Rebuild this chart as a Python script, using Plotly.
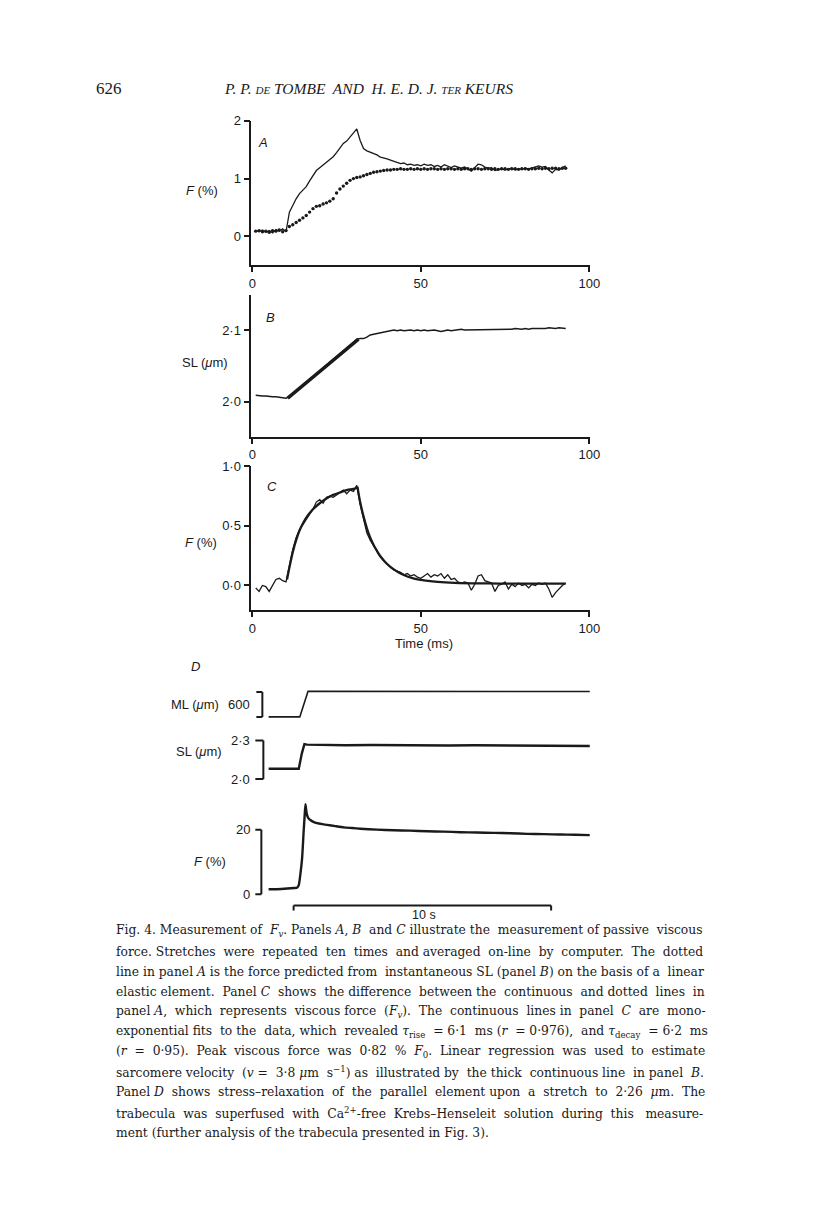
import plotly.graph_objects as go

# ---------------- data ----------------
# Panel A: measured force (continuous) and predicted elastic force (dotted), 1 ms steps from 1 ms
force_A = [0.10, 0.08, 0.11, 0.07, 0.10, 0.06, 0.12, 0.09, 0.13, 0.08,
           0.42, 0.55, 0.65, 0.74, 0.81, 0.86, 0.96, 1.06, 1.14, 1.19,
           1.24, 1.29, 1.33, 1.38, 1.45, 1.54, 1.61, 1.65, 1.72, 1.78,
           1.86, 1.66, 1.52, 1.48, 1.46, 1.44, 1.41, 1.37, 1.36, 1.34,
           1.32, 1.30, 1.28, 1.26, 1.27, 1.24, 1.25, 1.23, 1.24, 1.22,
           1.25, 1.23, 1.24, 1.21, 1.23, 1.20, 1.24, 1.21, 1.19, 1.22,
           1.20, 1.18, 1.20, 1.17, 1.13, 1.19, 1.25, 1.24, 1.20, 1.18,
           1.19, 1.14, 1.16, 1.17, 1.15, 1.16, 1.18, 1.15, 1.17, 1.16,
           1.18, 1.17, 1.19, 1.20, 1.22, 1.20, 1.21, 1.15, 1.10, 1.16,
           1.15, 1.19, 1.22]
predicted_A = [0.09, 0.10, 0.08, 0.09, 0.07, 0.10, 0.09, 0.11, 0.08, 0.10,
               0.17, 0.20, 0.24, 0.28, 0.32, 0.36, 0.42, 0.48, 0.52, 0.53,
               0.56, 0.58, 0.61, 0.65, 0.75, 0.82, 0.87, 0.92, 0.97, 1.00,
               1.02, 1.03, 1.05, 1.07, 1.09, 1.11, 1.12, 1.13, 1.14, 1.15,
               1.15, 1.16, 1.16, 1.17, 1.16, 1.16, 1.17, 1.16, 1.17, 1.16,
               1.17, 1.16, 1.17, 1.17, 1.16, 1.17, 1.16, 1.17, 1.17, 1.16,
               1.17, 1.16, 1.17, 1.17, 1.16, 1.17, 1.17, 1.16, 1.17, 1.17,
               1.16, 1.17, 1.16, 1.17, 1.17, 1.16, 1.17, 1.17, 1.16, 1.17,
               1.17, 1.16, 1.17, 1.17, 1.18, 1.17, 1.18, 1.17, 1.18, 1.18,
               1.17, 1.18, 1.18]
# Panel B: sarcomere length (um)
sl_B = [2.009, 2.008, 2.008, 2.008, 2.007, 2.007, 2.007, 2.006, 2.006, 2.005,
        2.007, 2.011, 2.015, 2.019, 2.023, 2.028, 2.032, 2.036, 2.040, 2.043,
        2.047, 2.052, 2.056, 2.060, 2.064, 2.068, 2.072, 2.076, 2.080, 2.084,
        2.087, 2.088, 2.088, 2.090, 2.093, 2.094, 2.095, 2.097, 2.098, 2.099,
        2.099, 2.100, 2.099, 2.100, 2.099, 2.100, 2.100, 2.099, 2.100, 2.099,
        2.100, 2.099, 2.100, 2.100, 2.099, 2.098, 2.099, 2.100, 2.099, 2.100,
        2.100, 2.101, 2.100, 2.100, 2.101, 2.100, 2.100, 2.101, 2.100, 2.101,
        2.101, 2.100, 2.101, 2.101, 2.100, 2.101, 2.101, 2.102, 2.101, 2.101,
        2.102, 2.101, 2.102, 2.102, 2.101, 2.102, 2.102, 2.103, 2.102, 2.102,
        2.103, 2.102, 2.102]
reg_t = [10.5, 31.5]
reg_sl = [2.005, 2.087]
# Panel C: viscous force (difference) and mono-exponential fits
visc_C = [-0.02, -0.05, 0.00, -0.01, -0.05, 0.00, 0.05, 0.06, 0.04, 0.03,
          0.17, 0.30, 0.40, 0.47, 0.51, 0.55, 0.60, 0.64, 0.70, 0.72,
          0.69, 0.74, 0.75, 0.74, 0.76, 0.78, 0.80, 0.77, 0.80, 0.79,
          0.84, 0.68, 0.55, 0.44, 0.38, 0.33, 0.28, 0.24, 0.21, 0.18,
          0.15, 0.13, 0.12, 0.11, 0.09, 0.10, 0.08, 0.09, 0.07, 0.06,
          0.08, 0.10, 0.07, 0.09, 0.08, 0.10, 0.06, 0.09, 0.05, 0.06,
          0.03, 0.02, 0.03, 0.02, -0.04, 0.01, 0.08, 0.09, 0.04, 0.03,
          0.02, -0.05, 0.00, 0.01, 0.03, -0.03, 0.01, -0.01, 0.02, 0.00,
          0.01, -0.02, 0.01, 0.00, 0.02, 0.01, 0.02, -0.03, -0.10, -0.06,
          -0.03, 0.00, 0.02]
rise_t = [10.3, 11, 12, 13, 14, 15, 16, 18, 20, 22, 24, 26, 28, 30, 31.2]
rise_fit = [0.05, 0.15, 0.28, 0.38, 0.46, 0.52, 0.57, 0.64, 0.69, 0.73, 0.76, 0.78, 0.80, 0.81, 0.82]
decay_t = [31.2, 32, 33, 34, 35, 36, 37, 38, 40, 42, 44, 46, 48, 50, 55, 60, 70, 80, 93]
decay_fit = [0.83, 0.70, 0.58, 0.48, 0.40, 0.34, 0.29, 0.245, 0.18, 0.135, 0.10, 0.075,
             0.058, 0.046, 0.03, 0.022, 0.017, 0.015, 0.015]
time_ms = list(range(1, len(force_A) + 1))

# Panel D: stress relaxation (time in s)
ml_t = [0, 1.22, 1.54, 12.48]
ml_D = [0, 0, 615, 610]
sl_t = [0, 0.5, 1.0, 1.18, 1.30, 1.40, 1.50, 2, 3, 4, 5, 6, 7, 8, 9, 10, 11, 12, 12.48]
sl_D = [2.08, 2.08, 2.08, 2.08, 2.20, 2.272, 2.268, 2.265, 2.264, 2.265, 2.263, 2.264,
        2.262, 2.263, 2.261, 2.262, 2.260, 2.259, 2.258]
f_t = [0, 0.5, 1.0, 1.11, 1.18, 1.24, 1.31, 1.37, 1.41, 1.44, 1.47, 1.50, 1.55, 1.63, 1.75,
       1.89, 2.10, 2.28, 2.60, 2.93, 3.25, 3.57, 4.22, 4.87, 5.50, 6.17, 6.80, 7.46, 8.10,
       8.75, 9.40, 10.05, 10.70, 11.34, 11.90, 12.48]
f_D = [1.5, 1.6, 1.9, 2.0, 2.8, 6.0, 11.2, 19.5, 24.5, 27.9, 26.0, 24.6, 23.6, 23.0, 22.4,
       22.0, 21.7, 21.5, 21.1, 20.7, 20.5, 20.3, 20.0, 19.8, 19.7, 19.5, 19.4, 19.2, 19.1,
       19.0, 18.9, 18.7, 18.6, 18.5, 18.4, 18.3]

x_ticks = [0, 50, 100]
yA_ticks, yA_text = [0, 1, 2], ["0", "1", "2"]
yB_ticks, yB_text = [2.0, 2.1], ["2·0", "2·1"]
yC_ticks, yC_text = [0.0, 0.5, 1.0], ["0·0", "0·5", "1·0"]

caption_lines = [
    "Fig. 4. Measurement of <i>F</i><sub><i>v</i></sub>. Panels <i>A</i>, <i>B</i> and <i>C</i> illustrate the measurement of passive viscous",
    "force. Stretches were repeated ten times and averaged on-line by computer. The dotted",
    "line in panel <i>A</i> is the force predicted from instantaneous SL (panel <i>B</i>) on the basis of a linear",
    "elastic element. Panel <i>C</i> shows the difference between the continuous and dotted lines in",
    "panel <i>A</i>, which represents viscous force (<i>F</i><sub><i>v</i></sub>). The continuous lines in panel <i>C</i> are mono-",
    "exponential fits to the data, which revealed <i>τ</i><sub>rise</sub> = 6·1 ms (<i>r</i> = 0·976), and <i>τ</i><sub>decay</sub> = 6·2 ms",
    "(<i>r</i> = 0·95). Peak viscous force was 0·82 % <i>F</i><sub>0</sub>. Linear regression was used to estimate",
    "sarcomere velocity (<i>v</i> = 3·8 <i>μ</i>m s<sup>−1</sup>) as illustrated by the thick continuous line in panel <i>B</i>.",
    "Panel <i>D</i> shows stress–relaxation of the parallel element upon a stretch to 2·26 <i>μ</i>m. The",
    "trabecula was superfused with Ca<sup>2+</sup>-free Krebs–Henseleit solution during this measure-",
    "ment (further analysis of the trabecula presented in Fig. 3).",
]
# extra word spaces per caption line to imitate the justified setting
caption_extra_spaces = [4, 10, 2, 8, 11, 9, 15, 8, 12, 10, 0]

# ---------------- figure ----------------
W, H = 800, 1188
OFF = 8
INK = "#1a1a1a"
SANS = "Liberation Sans, Arial, sans-serif"
SERIF = "DejaVu Serif, serif"


def px(x):
    p = (x - 3.5) / 0.981
    return (p - OFF) / W


def py(y):
    p = (y - 6.6) / 0.993
    return 1 - (p - OFF) / H


def justify(line, extra):
    words = line.split(" ")
    n = len(words) - 1
    out = words[0]
    for i in range(n):
        add = ((i + 1) * extra) // n - (i * extra) // n
        out += " " * (1 + add) + words[i + 1]
    return out


fig = go.Figure()
fig.add_trace(go.Scatter(x=time_ms, y=force_A, mode="lines", line=dict(color=INK, width=1.3),
                         xaxis="x", yaxis="y"))
fig.add_trace(go.Scatter(x=time_ms, y=predicted_A, mode="markers",
                         marker=dict(color=INK, size=3.4), xaxis="x", yaxis="y"))
fig.add_trace(go.Scatter(x=time_ms, y=sl_B, mode="lines", line=dict(color=INK, width=1.5),
                         xaxis="x2", yaxis="y2"))
fig.add_trace(go.Scatter(x=reg_t, y=reg_sl, mode="lines", line=dict(color=INK, width=3.5),
                         xaxis="x2", yaxis="y2"))
fig.add_trace(go.Scatter(x=time_ms, y=visc_C, mode="lines", line=dict(color=INK, width=1.3),
                         xaxis="x3", yaxis="y3"))
fig.add_trace(go.Scatter(x=rise_t, y=rise_fit, mode="lines", line=dict(color=INK, width=2.3, shape="spline"),
                         xaxis="x3", yaxis="y3"))
fig.add_trace(go.Scatter(x=decay_t, y=decay_fit, mode="lines", line=dict(color=INK, width=2.3, shape="spline"),
                         xaxis="x3", yaxis="y3"))
fig.add_trace(go.Scatter(x=ml_t, y=ml_D, mode="lines", line=dict(color=INK, width=1.6),
                         xaxis="x4", yaxis="y4"))
fig.add_trace(go.Scatter(x=sl_t, y=sl_D, mode="lines", line=dict(color=INK, width=2.4),
                         xaxis="x4", yaxis="y5"))
fig.add_trace(go.Scatter(x=f_t, y=f_D, mode="lines", line=dict(color=INK, width=2.4, shape="spline", smoothing=0.5),
                         xaxis="x4", yaxis="y6"))

tickfont = dict(family=SANS, size=13, color=INK)
axis_common = dict(showline=True, linecolor=INK, linewidth=1.6, ticks="outside", tickcolor=INK,
                   tickwidth=1.5, showgrid=False, zeroline=False, tickfont=tickfont)
xdom = [px(251), px(589)]


def xax(anchor):
    return dict(axis_common, domain=xdom, range=[-0.3, 100.3], anchor=anchor,
                tickmode="array", tickvals=x_ticks, ticklen=5)


fig.update_layout(
    width=W, height=H, margin=dict(l=0, r=0, t=0, b=0),
    paper_bgcolor="white", plot_bgcolor="rgba(0,0,0,0)", showlegend=False,
    xaxis=xax("y"),
    yaxis=dict(axis_common, domain=[py(264.5), py(120)], range=[-0.5, 2.005], anchor="x",
               tickmode="array", tickvals=yA_ticks, ticktext=yA_text, ticklen=6),
    xaxis2=xax("y2"),
    yaxis2=dict(axis_common, domain=[py(436), py(294)], range=[1.951, 2.149], anchor="x2",
                tickmode="array", tickvals=yB_ticks, ticktext=yB_text, ticklen=6),
    xaxis3=xax("y3"),
    yaxis3=dict(axis_common, domain=[py(609), py(465)], range=[-0.207, 1.003], anchor="x3",
                tickmode="array", tickvals=yC_ticks, ticktext=yC_text, ticklen=6),
    xaxis4=dict(domain=[px(268), px(589)], range=[0, 12.5], anchor="y6", visible=False),
    yaxis4=dict(domain=[py(725), py(680)], range=[-224, 858], anchor="x4", visible=False),
    yaxis5=dict(domain=[py(785), py(732)], range=[1.943, 2.357], anchor="x4", visible=False),
    yaxis6=dict(domain=[py(900), py(795)], range=[-2.27, 30.34], anchor="x4", visible=False),
)

# ---------------- scale bars (panel D) ----------------
shapes = []
lw = dict(color=INK, width=2)


def bracket(yref, lo, hi, xv, xl):
    shapes.append(dict(type="line", xref="paper", yref=yref, x0=px(xv), x1=px(xv), y0=lo, y1=hi, line=lw))
    shapes.append(dict(type="line", xref="paper", yref=yref, x0=px(xl), x1=px(xv), y0=lo, y1=lo, line=lw))
    shapes.append(dict(type="line", xref="paper", yref=yref, x0=px(xl), x1=px(xv), y0=hi, y1=hi, line=lw))


bracket("y4", 0, 600, 262, 256)
bracket("y5", 2.0, 2.3, 263, 255)
bracket("y6", 0, 20, 261, 255)
# 10 s time bar
shapes.append(dict(type="line", xref="x4", yref="paper", x0=0.98, x1=10.98, y0=py(904), y1=py(904), line=lw))
shapes.append(dict(type="line", xref="x4", yref="paper", x0=0.98, x1=0.98, y0=py(904), y1=py(909), line=lw))
shapes.append(dict(type="line", xref="x4", yref="paper", x0=10.98, x1=10.98, y0=py(904), y1=py(909), line=lw))
fig.update_layout(shapes=shapes)

# ---------------- text ----------------
anns = []


def ann(text, x, y, size=13, family=SANS, xanchor="center", yref="paper", yval=None, pad=1):
    anns.append(dict(text=text, x=px(x), y=py(y) if yval is None else yval, xref="paper", yref=yref,
                     xanchor=xanchor, yanchor="middle", showarrow=False, borderpad=pad,
                     font=dict(family=family, size=size, color=INK)))


# header
ann("626", 109, 88, size=17, family="Liberation Serif, serif")
ann("<i>P. P. <span style='font-size:11px'>DE</span> TOMBE  AND  H. E. D. J. "
    "<span style='font-size:11px'>TER</span> KEURS</i>", 368, 88, size=15.5, family="Liberation Serif, serif")

# panel letters and axis titles
ann("<i>A</i>", 263, 142)
ann("<i>B</i>", 270, 317)
ann("<i>C</i>", 272, 486)
ann("<i>D</i>", 195, 665)
ann("<i>F</i> (%)", 202, 190)
ann("SL (<i>μ</i>m)", 205, 362)
ann("<i>F</i> (%)", 201, 541)
ann("Time (ms)", 423, 642)

# panel D labels
ann("ML (<i>μ</i>m)", 195, 703)
ann("600", 252, None, xanchor="right", yref="y4", yval=300)
ann("SL (<i>μ</i>m)", 199, 750)
ann("2·3", 252, None, xanchor="right", yref="y5", yval=2.3)
ann("2·0", 252, None, xanchor="right", yref="y5", yval=2.0)
ann("20", 252, None, xanchor="right", yref="y6", yval=20)
ann("0", 252, None, xanchor="right", yref="y6", yval=0)
ann("<i>F</i> (%)", 210, 860)
ann("10 s", 423, 913.5, size=12.5, pad=0)

# caption
for i, line in enumerate(caption_lines):
    ann(justify(line, caption_extra_spaces[i]), 115, 930 + i * 20.1, size=12.3, family=SERIF,
        xanchor="left", pad=0)

fig.update_layout(annotations=anns)
fig.write_html("out.html")
